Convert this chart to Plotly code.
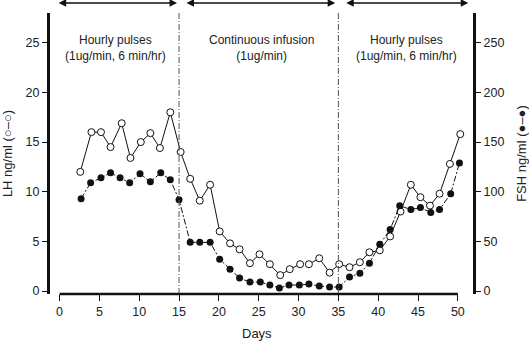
import plotly.graph_objects as go

# LH (open circles), ng/ml
lh_days = [2.6, 4.0, 5.2, 6.4, 7.8, 8.9, 10.2, 11.4, 12.6, 13.9, 15.2, 16.4, 17.6, 18.9,
           20.1, 21.4, 22.6, 23.9, 25.1, 26.4, 27.7, 28.9, 30.2, 30.75, 31.3, 32.6, 33.9,
           35.1, 36.4, 37.7, 38.9, 40.2, 41.5, 42.8, 44.1, 45.3, 46.5, 47.7, 49.0, 50.3]
lh_vals = [12.0, 16.0, 16.0, 14.5, 16.9, 13.4, 15.0, 15.9, 14.4, 18.0, 14.0, 11.3, 9.1, 10.7,
           6.0, 4.8, 4.2, 2.8, 3.7, 2.7, 1.6, 2.2, 2.7, None, 2.7, 3.3, 1.85,
           2.7, 2.4, 2.9, 3.9, 4.1, 5.5, 8.0, 10.7, 9.45, 8.6, 9.8, 12.8, 15.8]

# FSH (filled circles), ng/ml
fsh_days = [2.7, 3.9, 5.2, 6.4, 7.6, 8.8, 10.1, 11.4, 12.7, 13.9, 15.0, 16.4, 17.6, 18.9,
            20.1, 21.4, 22.6, 23.9, 25.2, 26.4, 27.6, 28.8, 30.1, 31.3, 32.6, 33.9, 35.1,
            36.4, 37.7, 38.9, 40.2, 41.5, 42.7, 44.1, 45.3, 46.6, 47.7, 49.1, 50.2]
fsh_vals = [93, 109, 114, 119, 114, 109, 118, 110, 119, 112, 92, 49, 49, 49,
            32, 22, 13, 9, 9, 6, 3, 6, 6, 7, 5, 4, 4,
            14, 18, 28, 47, 62, 86, 82, 84, 79, 82, 98, 129]

x_ticks = [0, 5, 10, 15, 20, 25, 30, 35, 40, 45, 50]
lh_ticks = [0, 5, 10, 15, 20, 25]
fsh_ticks = [0, 50, 100, 150, 200, 250]
phase_bounds = [15, 35]
phase_labels = ["Hourly pulses<br>(1ug/min, 6 min/hr)",
                "Continuous infusion<br>(1ug/min)",
                "Hourly pulses<br>(1ug/min, 6 min/hr)"]
phase_centers = [7.0, 25.4, 43.6]
phase_arrows = [(-0.3, 14.75), (15.75, 34.6), (35.8, 51.3)]

FONT = "Liberation Sans, Arial, sans-serif"
TXT = "#222222"

fig = go.Figure()
fig.add_trace(go.Scatter(
    x=lh_days, y=lh_vals, mode="lines+markers", connectgaps=False,
    line=dict(color="#111111", width=1),
    marker=dict(symbol="circle", size=7, color="white", line=dict(color="#111111", width=1)),
    yaxis="y", showlegend=False))
fig.add_trace(go.Scatter(
    x=fsh_days, y=fsh_vals, mode="lines+markers",
    line=dict(color="#111111", width=1, dash="6px,2px,2px,2px"),
    marker=dict(symbol="circle", size=7, color="#111111"),
    yaxis="y2", showlegend=False))

shapes = []
for b in phase_bounds:
    shapes.append(dict(type="line", xref="x", yref="paper", x0=b, x1=b, y0=0, y1=1,
                       line=dict(color="#555555", width=1, dash="6px,2px,1px,2px")))
shapes.append(dict(type="line", xref="x", yref="paper", x0=0, x1=50, y0=0, y1=0,
                   line=dict(color="#111111", width=2.5)))

annotations = []
for c, t in zip(phase_centers, phase_labels):
    annotations.append(dict(x=c, y=0.936, xref="x", yref="paper", text=t, showarrow=False,
                            font=dict(family=FONT, size=12, color=TXT), align="center"))
for a0, a1 in phase_arrows:
    annotations.append(dict(x=a1, y=1.036, xref="x", yref="paper", ax=a0, ay=0,
                            axref="x", ayref="pixel", text="", showarrow=True,
                            arrowhead=2, arrowside="end+start", arrowsize=1,
                            arrowwidth=1.5, arrowcolor="#111111"))
annotations.append(dict(x=0.49, y=-0.139, xref="paper", yref="paper", text="Days",
                        showarrow=False, yanchor="middle",
                        font=dict(family=FONT, size=13, color=TXT)))

fig.update_layout(
    width=529, height=342,
    margin=dict(l=50, r=56, t=13, b=48, autoexpand=False),
    paper_bgcolor="white", plot_bgcolor="white",
    font=dict(family=FONT, size=13, color=TXT),
    xaxis=dict(range=[-1.2, 51.9], tickvals=x_ticks, ticks="outside", ticklen=6,
               tickwidth=1.2, tickcolor="#111111", showline=False, showgrid=False,
               zeroline=False, tickfont=dict(size=12.5), automargin=False),
    yaxis=dict(range=[-0.3, 28], tickvals=lh_ticks, ticks="outside", ticklen=5,
               tickwidth=1.2, tickcolor="#111111", showline=True, linewidth=3,
               linecolor="#111111", showgrid=False, zeroline=False, automargin=False,
               title=dict(text="LH ng/ml (○–○)", standoff=14, font=dict(size=13)),
               tickfont=dict(size=12.5)),
    yaxis2=dict(range=[-3, 280], tickvals=fsh_ticks, ticks="outside", ticklen=5,
                tickwidth=1.2, tickcolor="#111111", showline=True, linewidth=3,
                linecolor="#111111", showgrid=False, zeroline=False, overlaying="y",
                side="right", automargin=False,
                title=dict(text="FSH ng/ml (●–●)", standoff=14, font=dict(size=13)),
                tickfont=dict(size=12.5)),
    shapes=shapes, annotations=annotations,
)

fig.write_html("out.html")
